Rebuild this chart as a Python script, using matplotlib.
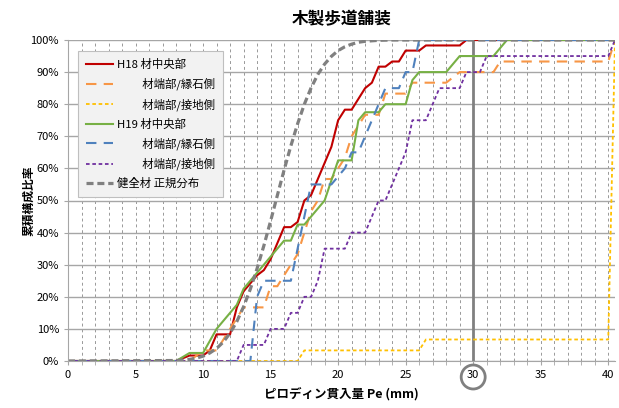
import matplotlib
matplotlib.use("Agg")
import matplotlib.pyplot as plt
from matplotlib.ticker import MultipleLocator, PercentFormatter
from matplotlib.patches import Circle
from matplotlib.transforms import IdentityTransform

plt.rcParams['font.family'] = ['Noto Sans CJK JP', 'DejaVu Sans']

# H18 材中央部
h18_c_x = [0, 8, 9, 10, 10.5, 11, 12, 12.5, 13, 14, 14.5, 15, 15.5, 16, 16.5, 17, 17.5, 18, 19, 19.5,
           20, 20.5, 21, 22, 22.5, 23, 23.5, 24, 24.5, 25, 26, 26.5, 29, 29.5, 40.5]
h18_c_y = [0, 0, 1.7, 1.7, 3.3, 8.3, 8.3, 16.7, 21.7, 26.7, 28.3, 31.7, 36.7, 41.7, 41.7, 43.3, 50, 51.7,
           61.7, 66.7, 75, 78.3, 78.3, 85, 86.7, 91.7, 91.7, 93.3, 93.3, 96.7, 96.7, 98.3, 98.3, 100, 100]

# H18 材端部/縁石側
h18_e_x = [0, 9, 10, 11, 12, 13, 14.5, 15, 15.5, 16, 17, 17.5, 18, 18.5, 19, 19.5, 20, 20.5, 21, 21.5,
           22, 23, 23.5, 25, 25.5, 28, 29, 31.5, 32, 40, 40.5]
h18_e_y = [0, 0, 3.3, 3.3, 10, 16.7, 16.7, 23.3, 23.3, 26.7, 33.3, 40, 46.7, 50, 56.7, 56.7, 60, 63.3,
           70, 73.3, 76.7, 76.7, 83.3, 83.3, 86.7, 86.7, 90, 90, 93.3, 93.3, 100]

# H18 材端部/接地側
h18_g_x = [0, 17, 17.5, 26, 26.5, 40, 40.5]
h18_g_y = [0, 0, 3.3, 3.3, 6.7, 6.7, 100]

# H19 材中央部
h19_c_x = [0, 8, 9, 10, 11, 11.5, 12.5, 13, 14, 15, 15.5, 16, 16.5, 17, 17.5, 19, 20, 21, 21.5, 22,
           23, 23.5, 25, 25.5, 26, 28, 29, 31.5, 32.5, 40.5]
h19_c_y = [0, 0, 2.5, 2.5, 10, 12.5, 17.5, 22.5, 27.5, 32.5, 35, 37.5, 37.5, 42.5, 42.5, 50, 62.5, 62.5,
           75, 77.5, 77.5, 80, 80, 87.5, 90, 90, 95, 95, 100, 100]

# H19 材端部/縁石側
h19_e_x = [0, 13.5, 14, 14.5, 16.5, 17, 17.5, 18, 19.5, 20.5, 21, 21.5, 22, 23, 23.5, 24.5, 25, 25.5,
           26, 40.5]
h19_e_y = [0, 0, 20, 25, 25, 35, 45, 55, 55, 60, 65, 65, 70, 80, 85, 85, 90, 90, 100, 100]

# H19 材端部/接地側
h19_g_x = [0, 12.5, 13, 14.5, 15, 16, 16.5, 17, 17.5, 18, 18.5, 19, 20.5, 21, 22, 23, 23.5, 24, 25,
           25.5, 26.5, 27, 27.5, 29, 29.5, 30.5, 31, 40, 40.5]
h19_g_y = [0, 0, 5, 5, 10, 10, 15, 15, 20, 20, 25, 35, 35, 40, 40, 50, 50, 55, 65, 75, 75, 80, 85, 85,
           90, 90, 95, 95, 100]

# 健全材 正規分布
sound_x = [0, 8, 8.5, 9, 9.5, 10, 10.5, 11, 11.5, 12, 12.5, 13, 13.5, 14, 14.5, 15, 15.5, 16, 16.5,
           17, 17.5, 18, 18.5, 19, 19.5, 20, 20.5, 21, 21.5, 22, 23, 24, 40.5]
sound_y = [0, 0.15, 0.3, 0.5, 0.9, 1.5, 2.5, 3.9, 5.9, 8.7, 12.3, 16.9, 22.4, 28.8, 35.9, 43.6, 51.6,
           59.5, 67.0, 73.9, 80.0, 85.1, 89.3, 92.5, 94.9, 96.7, 97.9, 98.7, 99.3, 99.6, 99.9, 100, 100]

fig = plt.figure(figsize=(6.19, 4.08), dpi=100)
ax = fig.add_axes([68 / 619, 1 - 361 / 408, (615 - 68) / 619, (361 - 40) / 408])

ax.plot(h18_c_x, h18_c_y, color='#c00000', lw=1.5, label='H18 材中央部')
ax.plot(h18_e_x, h18_e_y, color='#f79646', lw=1.5, dashes=(5, 3.5), label='\u3000\u3000 材端部/縁石側')
ax.plot(h18_g_x, h18_g_y, color='#ffc000', lw=1.3, dashes=(2, 1.5), label='\u3000\u3000 材端部/接地側')
ax.plot(h19_c_x, h19_c_y, color='#77b045', lw=1.5, label='H19 材中央部')
ax.plot(h19_e_x, h19_e_y, color='#4f81bd', lw=1.5, dashes=(5, 3.5), label='\u3000\u3000 材端部/縁石側')
ax.plot(h19_g_x, h19_g_y, color='#7030a0', lw=1.3, dashes=(2, 1.5), label='\u3000\u3000 材端部/接地側')
ax.plot(sound_x, sound_y, color='#808080', lw=2.3, dashes=(2.2, 1.2), label='健全材 正規分布')

ax.set_xlim(0, 40.5)
ax.set_ylim(0, 100)
ax.xaxis.set_major_locator(MultipleLocator(5))
ax.xaxis.set_minor_locator(MultipleLocator(1))
ax.yaxis.set_major_locator(MultipleLocator(10))
ax.yaxis.set_major_formatter(PercentFormatter(decimals=0))

ax.grid(axis='y', which='major', color='#a6a6a6', lw=1)
ax.grid(axis='x', which='both', color='#999999', lw=0.7, ls=(0, (3, 3)))
ax.set_axisbelow(True)
ax.axvline(30, color='#808080', lw=2, zorder=1.5)

for s in ['top', 'right']:
    ax.spines[s].set_visible(False)
for s in ['left', 'bottom']:
    ax.spines[s].set_color('#a6a6a6')
ax.tick_params(which='both', direction='out', color='#a6a6a6', labelsize=8, length=3)

ax.set_xlabel('ピロディン貫入量 Pe (mm)', fontsize=9, fontweight='bold', labelpad=5)
ax.set_ylabel('累積構成比率', fontsize=8.5, fontweight='bold')
ax.yaxis.set_label_coords(-0.06, 0.5)
fig.suptitle('木製歩道舗装', fontsize=12, fontweight='bold', x=(68 + 615) / 2 / 619, y=0.975)

leg = ax.legend(loc='upper left', bbox_to_anchor=(10 / 547, 1 - 11 / 321), fontsize=8.2,
                frameon=True, fancybox=False, facecolor='#f2f2f2', edgecolor='#bfbfbf',
                framealpha=1, handlelength=2.4, labelspacing=0.68, borderpad=0.7,
                handletextpad=0.35, borderaxespad=0)
leg.get_frame().set_linewidth(0.8)

# circle around the 30 tick label
cx, cy = ax.transData.transform((30, 0))
fig.add_artist(Circle((cx, cy - 16), 12, transform=IdentityTransform(), fill=False,
                      ec='#808080', lw=2))

fig.savefig('out.png', dpi=100)
